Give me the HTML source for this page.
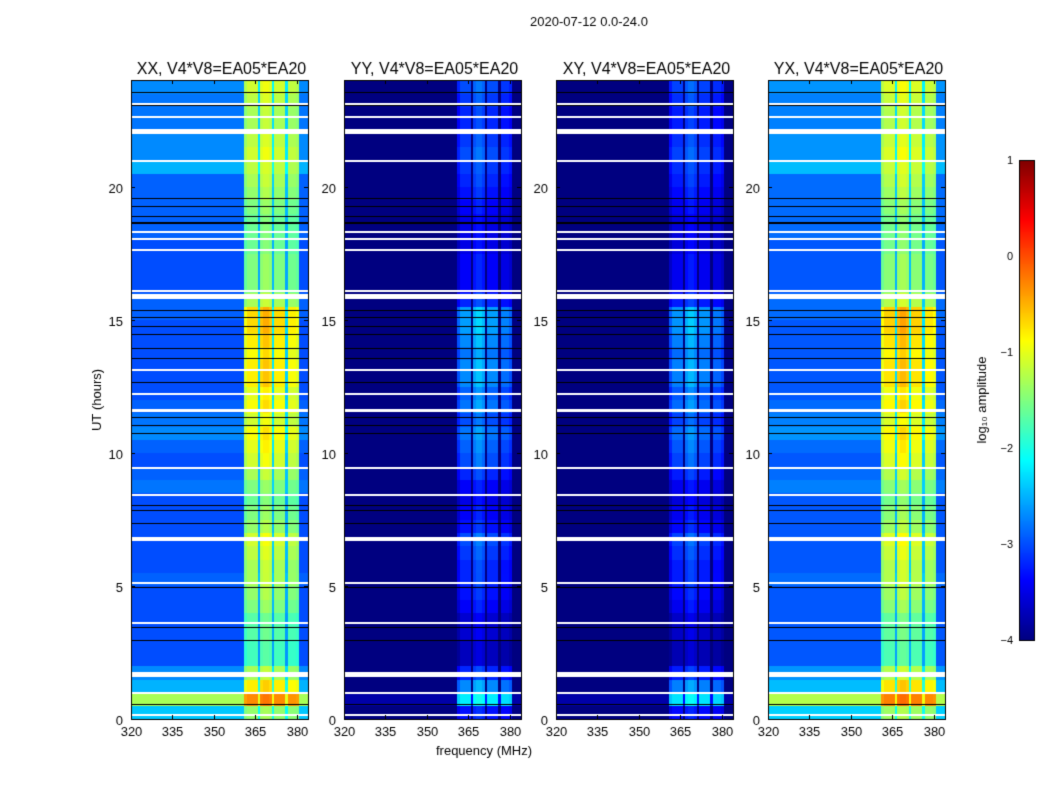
<!DOCTYPE html>
<html><head><meta charset="utf-8">
<style>
body{margin:0;background:#fff;font-family:"Liberation Sans",sans-serif;}
#wrap{position:relative;width:1050px;height:800px;overflow:hidden;}
canvas{position:absolute;left:0;top:0;}
</style></head>
<body>
<div id="wrap">
<canvas id="c" width="1050" height="800"></canvas>
</div>
<script>
// ---- data ----
const panelTitles = ["XX, V4*V8=EA05*EA20","YY, V4*V8=EA05*EA20","XY, V4*V8=EA05*EA20","YX, V4*V8=EA05*EA20"];
const panelBgShift = [0, -2.5, -2.5, 0.05];
const panelBandShift = [0, -1.9, -1.95, 0.05];
// per half-hour rows, hour 0..24 (48 rows)
const timeBand = [-1.4,-0.3,-0.8,-1.3,-1.8,-1.8,-1.7,-1.7,-1.5,-1.4,-1.3,-1.3,-1.2,-1.1,-1.4,-1.5,-1.6,-1.5,-1.3,-1.1,-1.0,-0.9,-1.1,-0.9,-1.0,-0.8,-0.8,-0.9,-0.8,-0.7,-0.7,-1.3,-1.5,-1.5,-1.5,-1.6,-1.6,-1.6,-1.5,-1.4,-1.3,-1.2,-1.1,-1.2,-1.3,-1.3,-1.2,-1.1];
const timeBg = [-2.4,-1.3,-2.5,-2.7,-3.0,-3.0,-3.0,-3.0,-3.0,-3.0,-2.9,-3.0,-3.0,-3.0,-3.0,-3.0,-3.0,-2.8,-2.9,-3.0,-2.9,-2.7,-2.8,-2.9,-3.0,-3.0,-3.0,-3.0,-3.0,-3.0,-2.9,-2.9,-3.0,-3.0,-3.0,-3.0,-2.9,-2.9,-2.9,-2.9,-2.9,-2.5,-2.7,-2.7,-2.8,-2.8,-2.8,-2.7];
// spectral profile per 1 MHz channel 320..383 (band boost factor, 0=background)
const bandProfile = [0,0,0,0,0,0,0,0,0,0,0,0,0,0,0,0,0,0,0,0,0,0,0,0,0,0,0,0,0,0,0,0,0,0,0,0,0,0,0,0,0,0.9,1,1,1,1,0.3,1.05,1.1,1.1,1.05,0.35,1,1,1,1,0.3,0.95,0.95,0.95,0.9,0,0,0];
const flagHours = [[0.12,0.2],[0.95,1.0],[1.6,1.77],[11.55,11.65],[15.75,15.95],[16.05,16.1],[20.93,20.98],[21.95,22.15],[6.7,6.85],[8.4,8.45],[12.2,12.25],[17.6,17.65],[18.0,18.05],[22.6,22.65],[23.1,23.15],[5.1,5.15],[3.6,3.65],[9.4,9.45],[13.1,13.15],[18.3,18.33]];
const blackHours = [[0.5,0.55],[2.9,2.95],[3.4,3.45],[4.9,4.95],[7.8,7.85],[8.0,8.05],[10.7,10.75],[11.0,11.05],[11.3,11.35],[12.6,12.65],[13.5,13.55],[13.9,13.95],[14.4,14.45],[15.05,15.1],[15.3,15.35],[18.6,18.68],[18.85,18.9],[19.2,19.25],[19.5,19.55],[23.5,23.55],[23.0,23.05],[14.7,14.75],[7.3,7.35]];
const xTicks = [320,335,350,365,380];
const yTicks = [0,5,10,15,20];
const cbTicks = [1,0,-1,-2,-3,-4];

// ---- drawing ----
const cv=document.getElementById('c'),ctx=cv.getContext('2d');
function jet(v){ // v in [-4,1]
  let x=Math.max(0,Math.min(1,(v+4)/5));
  const cl=t=>Math.round(255*Math.max(0,Math.min(1,t)));
  return `rgb(${cl(1.5-Math.abs(4*x-3))},${cl(1.5-Math.abs(4*x-2))},${cl(1.5-Math.abs(4*x-1))})`;
}
const panelsX=[131,344,556,768], pw=177, plotTop=80, plotBot=719;
const fx=(f,x0)=>x0+(f-320)/64*pw;
const ty=h=>plotBot-h/24*(plotBot-plotTop);
ctx.fillStyle='#000';ctx.font='13px "Liberation Sans",sans-serif';ctx.textAlign='center';
ctx.fillText('2020-07-12 0.0-24.0',589,26);
panelsX.forEach((x0,p)=>{
  for(let r=0;r<timeBand.length;r++){
    for(let c=0;c<bandProfile.length;c++){
      const bg=timeBg[r]+panelBgShift[p], bd=timeBand[r]+panelBandShift[p];
      const v=bandProfile[c]>0? bg+(bd-bg)*bandProfile[c] : bg;
      ctx.fillStyle=jet(v);
      const xa=fx(320+c,x0),xb=fx(321+c,x0),ya=ty((r+1)/2),yb=ty(r/2);
      ctx.fillRect(Math.floor(xa),Math.floor(ya),Math.ceil(xb)-Math.floor(xa),Math.ceil(yb)-Math.floor(ya));
    }
  }
  ctx.fillStyle='#000';
  blackHours.forEach(h=>{ctx.fillRect(x0,Math.round(ty(h[1])),pw,Math.max(1,Math.round(ty(h[0])-ty(h[1]))));});
  ctx.fillStyle='#fff';
  flagHours.forEach(h=>{ctx.fillRect(x0,Math.round(ty(h[1])),pw,Math.max(2,Math.round(ty(h[0])-ty(h[1]))));});
  ctx.strokeStyle='#000';ctx.lineWidth=1;ctx.strokeRect(x0+0.5,plotTop+0.5,pw,plotBot-plotTop);
  ctx.fillStyle='#000';ctx.font='13px "Liberation Sans",sans-serif';ctx.textAlign='center';
  xTicks.forEach(f=>{const x=Math.round(fx(f,x0))+0.5;ctx.beginPath();ctx.moveTo(x,plotBot);ctx.lineTo(x,plotBot-4);ctx.moveTo(x,plotTop);ctx.lineTo(x,plotTop+4);ctx.stroke();ctx.fillText(String(f),x,plotBot+17);});
  ctx.textAlign='right';
  yTicks.forEach(h=>{const y=Math.round(ty(h))+0.5;ctx.beginPath();ctx.moveTo(x0,y);ctx.lineTo(x0+4,y);ctx.moveTo(x0+pw,y);ctx.lineTo(x0+pw-4,y);ctx.stroke();ctx.fillText(String(h),x0-8,y+5);});
  ctx.textAlign='center';ctx.font='16px "Liberation Sans",sans-serif';
  ctx.fillText(panelTitles[p],x0+pw/2+2,74);
});
ctx.font='13px "Liberation Sans",sans-serif';ctx.textAlign='center';ctx.fillText('frequency (MHz)',484,755);
ctx.save();ctx.translate(101,400);ctx.rotate(-Math.PI/2);ctx.fillText('UT (hours)',0,0);ctx.restore();
// colorbar
const cbx=1019,cbw=15,cbt=160,cbb=640;
for(let y=cbt;y<cbb;y++){ctx.fillStyle=jet(1-(y-cbt)/(cbb-cbt)*5);ctx.fillRect(cbx,y,cbw,1);}
ctx.strokeStyle='#000';ctx.strokeRect(cbx+0.5,cbt+0.5,cbw,cbb-cbt);
ctx.fillStyle='#000';ctx.font='11px "Liberation Sans",sans-serif';ctx.textAlign='right';
cbTicks.forEach(t=>{const y=cbt+(1-t)/5*(cbb-cbt);ctx.fillText(t<0?'\u2212'+(-t):String(t),1013,y+4);});
ctx.save();ctx.translate(986,400);ctx.rotate(-Math.PI/2);ctx.textAlign='center';ctx.font='13px "Liberation Sans",sans-serif';ctx.fillText('log\u2081\u2080 amplitude',0,0);ctx.restore();
</script>
</body></html>
